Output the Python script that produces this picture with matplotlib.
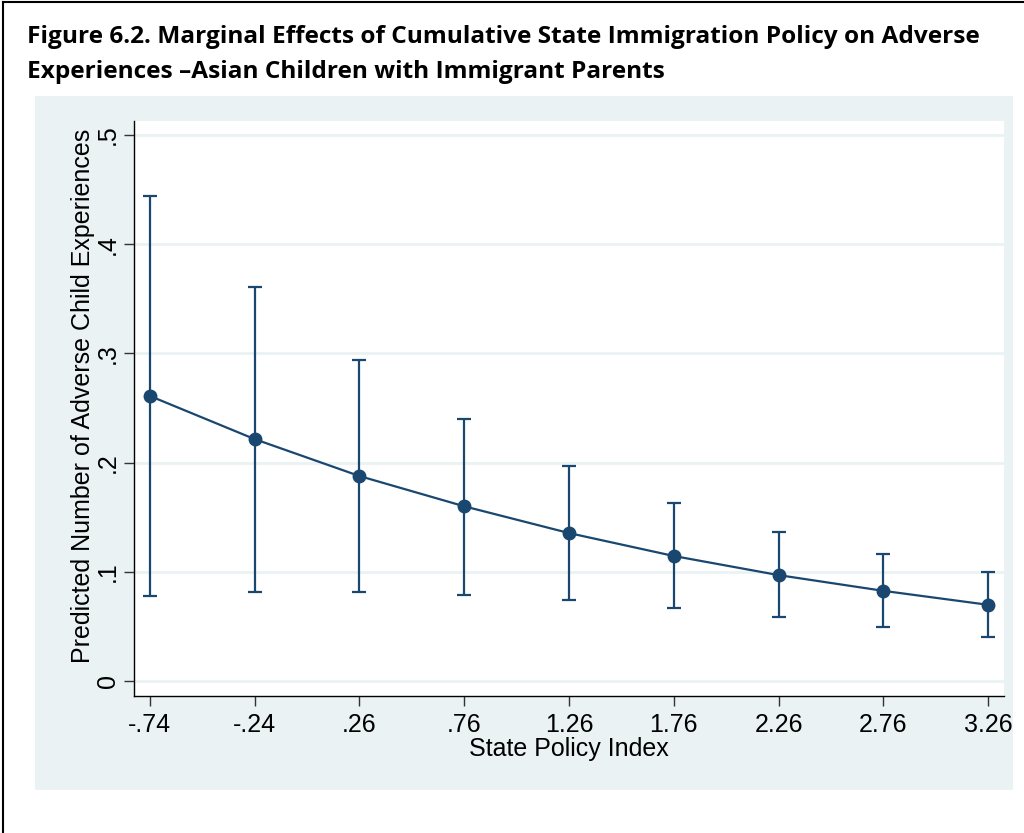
import matplotlib.pyplot as plt
from matplotlib.lines import Line2D
from matplotlib.patches import Rectangle

# policy index values and predicted counts with 95% CI
policy_index = [-0.74, -0.24, 0.26, 0.76, 1.26, 1.76, 2.26, 2.76, 3.26]
tick_labels = ["-.74", "-.24", ".26", ".76", "1.26", "1.76", "2.26", "2.76", "3.26"]
predicted = [0.261, 0.2215, 0.1877, 0.160, 0.1355, 0.1145, 0.097, 0.0826, 0.0698]
ci_upper = [0.444, 0.361, 0.294, 0.240, 0.197, 0.163, 0.1365, 0.116, 0.0995]
ci_lower = [0.078, 0.0815, 0.0815, 0.0788, 0.074, 0.0668, 0.0586, 0.0495, 0.0403]
y_ticks = [0, 0.1, 0.2, 0.3, 0.4, 0.5]
y_tick_labels = ["0", ".1", ".2", ".3", ".4", ".5"]

navy = "#1a476f"
panel = "#eaf2f3"

W, H = 1024, 833
fig = plt.figure(figsize=(W / 100, H / 100), dpi=100)

# outer frame (left and top edges only)
fig.add_artist(Line2D([3 / W, 3 / W], [0, 1 - 2 / H], color="black", lw=1.5))
fig.add_artist(Line2D([3 / W, 1], [1 - 2 / H, 1 - 2 / H], color="black", lw=1.5))

# graph region background
fig.add_artist(Rectangle((35 / W, 1 - 790 / H), (1013 - 35) / W, (790 - 96) / H,
                         transform=fig.transFigure, facecolor=panel, edgecolor="none", zorder=0))

fig.text(27 / W, 1 - 37 / H,
         "Figure 6.2. Marginal Effects of Cumulative State Immigration Policy on Adverse",
         fontsize=17.6, fontweight="bold", family="Open Sans", va="center", ha="left")
fig.text(27 / W, 1 - 72 / H,
         "Experiences \u2013Asian Children with Immigrant Parents",
         fontsize=17.6, fontweight="bold", family="Open Sans", va="center", ha="left")

ax = fig.add_axes([134 / W, 1 - 696 / H, (1004 - 134) / W, (696 - 121) / H])
ax.set_facecolor("white")
ax.set_xlim(-0.816, 3.336)
ax.set_ylim(-0.0137, 0.5128)

for y in y_ticks:
    ax.axhline(y, color=panel, lw=2, zorder=0)

lower_err = [p - l for p, l in zip(predicted, ci_lower)]
upper_err = [u - p for p, u in zip(predicted, ci_upper)]
ax.errorbar(policy_index, predicted, yerr=[lower_err, upper_err], fmt="none",
            ecolor=navy, elinewidth=1.6, capsize=5, capthick=1.6, zorder=2)
ax.plot(policy_index, predicted, color=navy, lw=1.6, marker="o", markersize=9, zorder=3)

ax.set_xticks(policy_index)
ax.set_xticklabels(tick_labels)
ax.set_yticks(y_ticks)
ax.set_yticklabels(y_tick_labels, rotation=90, va="center")

for side in ["top", "right"]:
    ax.spines[side].set_visible(False)
for side in ["left", "bottom"]:
    ax.spines[side].set_color("black")
    ax.spines[side].set_linewidth(1.0)

ax.tick_params(axis="both", direction="out", length=7, width=1, color="#333333",
               labelsize=18)
ax.tick_params(axis="x", pad=5)
ax.tick_params(axis="y", pad=3)
for lab in ax.get_xticklabels() + ax.get_yticklabels():
    lab.set_family("Liberation Sans")

ax.set_xlabel("State Policy Index", fontsize=18, family="Liberation Sans", labelpad=0)
ax.set_ylabel("Predicted Number of Adverse Child Experiences", fontsize=18,
              family="Liberation Sans", labelpad=1)
ax.yaxis.label.set_y(0.522)

fig.savefig("out.png", dpi=100)
